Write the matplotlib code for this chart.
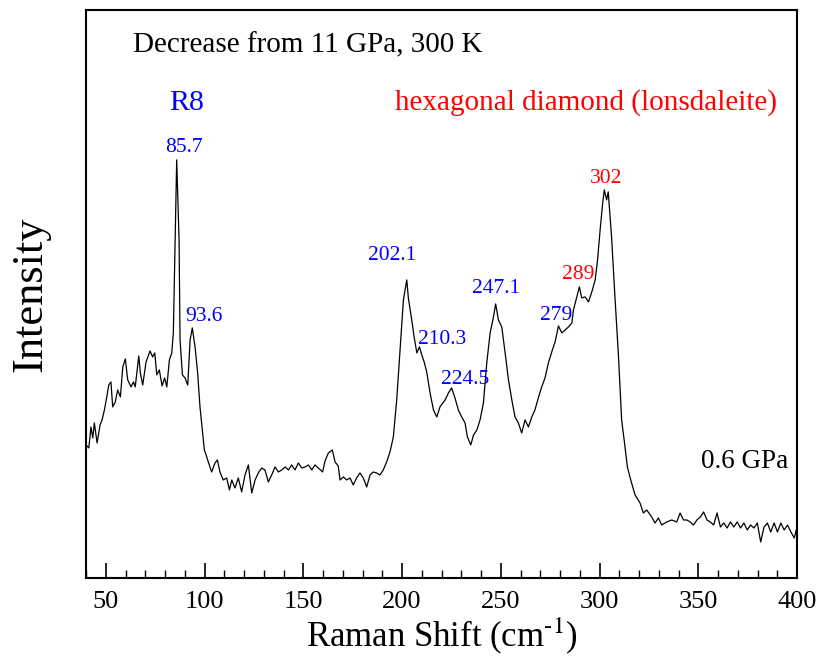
import matplotlib
matplotlib.use('Agg')
import matplotlib.pyplot as plt
from matplotlib.ticker import MultipleLocator

plt.rcParams['font.family'] = ['Liberation Serif', 'DejaVu Serif']
plt.rcParams['mathtext.fontset'] = 'stix'

# Raman spectrum, 0.6 GPa (arbitrary intensity units)
shift = [40.0, 41.4, 42.5, 43.4, 44.2, 45.6, 47.1, 48.1, 49.3, 50.5, 51.5, 52.6, 53.5, 54.8,
         56.0, 57.4, 58.6, 59.9, 61.1, 62.8, 64.0, 64.9, 66.7, 67.5, 68.7, 70.4, 72.4, 73.7,
         74.8, 75.8, 77.1, 78.5, 79.8, 80.9, 82.2, 83.4, 84.2, 85.1, 85.9, 87.1, 87.6, 88.8,
         90.1, 91.5, 92.7, 93.8, 95.2, 96.5, 97.7, 98.9, 99.9, 100.8, 101.9, 103.6, 105.3,
         106.5, 107.8, 109.5, 111.2, 112.6, 113.8, 115.4, 117.1, 118.8, 120.5, 122.2, 123.9,
         125.6, 127.2, 128.9, 130.6, 132.3, 134.0, 135.7, 137.4, 139.1, 140.8, 142.5, 144.1,
         145.8, 147.5, 149.2, 150.9, 152.6, 154.3, 155.9, 157.6, 159.8, 161.0, 162.7, 164.7,
         166.1, 167.7, 168.6, 170.3, 172.0, 173.7, 175.3, 177.0, 178.7, 180.4, 182.1, 183.8,
         185.4, 187.1, 188.8, 190.5, 192.2, 193.9, 195.6, 197.3, 199.0, 200.7, 202.4, 203.2,
         204.9, 206.2, 207.5, 208.8, 210.0, 211.2, 212.5, 214.2, 215.9, 217.6, 219.2, 221.8,
         223.5, 225.1, 226.8, 228.5, 230.2, 231.9, 233.1, 234.8, 236.2, 237.9, 239.5, 241.2,
         242.9, 244.6, 246.3, 247.4, 248.8, 250.5, 252.2, 253.9, 255.6, 257.2, 258.9, 260.6,
         262.3, 264.0, 265.7, 267.3, 269.0, 270.7, 272.4, 274.1, 275.8, 277.5, 279.2, 280.9,
         282.6, 284.3, 286.0, 286.8, 288.1, 289.8, 291.0, 292.7, 294.4, 296.1, 297.8, 299.0,
         300.3, 301.6, 302.4, 303.6, 304.4, 306.1, 307.8, 309.5, 311.2, 312.9, 314.1, 315.8,
         318.0, 320.5, 322.2, 323.9, 326.4, 328.1, 329.8, 331.5, 334.0, 336.6, 339.1, 340.8,
         342.5, 344.2, 345.9, 347.6, 349.3, 351.0, 352.7, 354.4, 356.1, 357.8, 359.5, 361.2,
         362.9, 364.6, 366.3, 368.0, 369.7, 371.4, 373.1, 374.8, 376.5, 378.2, 379.9, 381.6,
         383.3, 385.0, 386.7, 388.4, 390.1, 391.8, 393.5, 395.2, 396.9, 398.6, 400.0]
intensity = [133, 130, 151, 140, 155, 135, 153, 158, 168, 181, 193, 196, 171, 176,
             188, 181, 211, 219, 198, 191, 196, 191, 222, 205, 193, 216, 227, 221,
             225, 203, 208, 192, 200, 191, 218, 225, 245, 338, 418, 338, 238, 203,
             200, 193, 238, 250, 231, 205, 171, 148, 128, 123, 116, 106, 115,
             118, 106, 98, 100, 88, 98, 90, 100, 86, 103, 113, 85,
             98, 105, 110, 108, 96, 103, 111, 106, 108, 111, 108, 113,
             108, 115, 110, 111, 113, 108, 113, 110, 106, 117, 125, 128,
             116, 112, 98, 101, 98, 100, 93, 100, 105, 100, 91, 103,
             106, 105, 103, 108, 116, 126, 141, 178, 228, 278, 298, 280,
             258, 240, 225, 231, 223, 216, 206, 185, 168, 161, 171, 178,
             185, 190, 180, 168, 161, 155, 141, 133, 143, 148, 158, 175,
             215, 245, 261, 274, 258, 251, 225, 198, 178, 161, 155, 145,
             158, 151, 161, 168, 180, 191, 200, 215, 226, 236, 252, 245,
             248, 251, 255, 268, 278, 291, 280, 281, 276, 286, 298, 318,
             348, 375, 388, 378, 386, 341, 281, 225, 158, 131, 111, 98,
             83, 75, 65, 68, 61, 55, 60, 53, 56, 58, 56, 65,
             58, 58, 56, 53, 58, 61, 66, 58, 56, 53, 65, 51,
             55, 50, 56, 51, 56, 50, 55, 48, 53, 50, 55, 36,
             51, 55, 46, 55, 46, 55, 48, 53, 46, 40, 51]

peak_text = ['85.7', '93.6', '202.1', '210.3', '224.5', '247.1', '279', '289', '302']
peak_color = ['blue', 'blue', 'blue', 'blue', 'blue', 'blue', 'blue', 'red', 'red']
peak_x = [89.6, 99.7, 194.9, 220.3, 231.9, 247.6, 278.0, 289.1, 303.3]
peak_y = [430, 261, 322, 238, 198, 289, 262, 303, 399]

fig = plt.figure(figsize=(8.21, 6.63), dpi=100)
ax = fig.add_axes([0.1048, 0.1282, 0.866, 0.857])

ax.plot(shift, intensity, color='black', linewidth=0.9)

for t, c, px, py in zip(peak_text, peak_color, peak_x, peak_y):
    ax.text(px, py, t, color=c, fontsize=15.5, ha='center', va='center')

ax.text(91.1, 475, 'R8', color='blue', fontsize=21.5, ha='center', va='center')
ax.text(293.2, 475, 'hexagonal diamond (lonsdaleite)', color='red', fontsize=21,
        ha='center', va='center')
ax.text(152.4, 532, 'Decrease from 11 GPa, 300 K', color='black', fontsize=21,
        ha='center', va='center')
ax.text(373.7, 116, '0.6 GPa', color='black', fontsize=19.5, ha='center', va='center')

ax.set_xlim(40, 400)
ax.set_ylim(0, 568)
ax.xaxis.set_major_locator(MultipleLocator(50))
ax.xaxis.set_minor_locator(MultipleLocator(10))
ax.tick_params(axis='x', which='major', direction='in', length=11, width=1.2,
               labelsize=19, pad=9)
ax.tick_params(axis='x', which='minor', direction='in', length=6, width=1.0)
ax.set_yticks([])
for s in ax.spines.values():
    s.set_linewidth(1.5)

ax.set_xlabel(r'Raman Shift (cm$^{\text{-1}}$)', fontsize=25, labelpad=2)
ax.set_ylabel('Intensity', fontsize=32, labelpad=26)

fig.savefig('out.png', dpi=100)
